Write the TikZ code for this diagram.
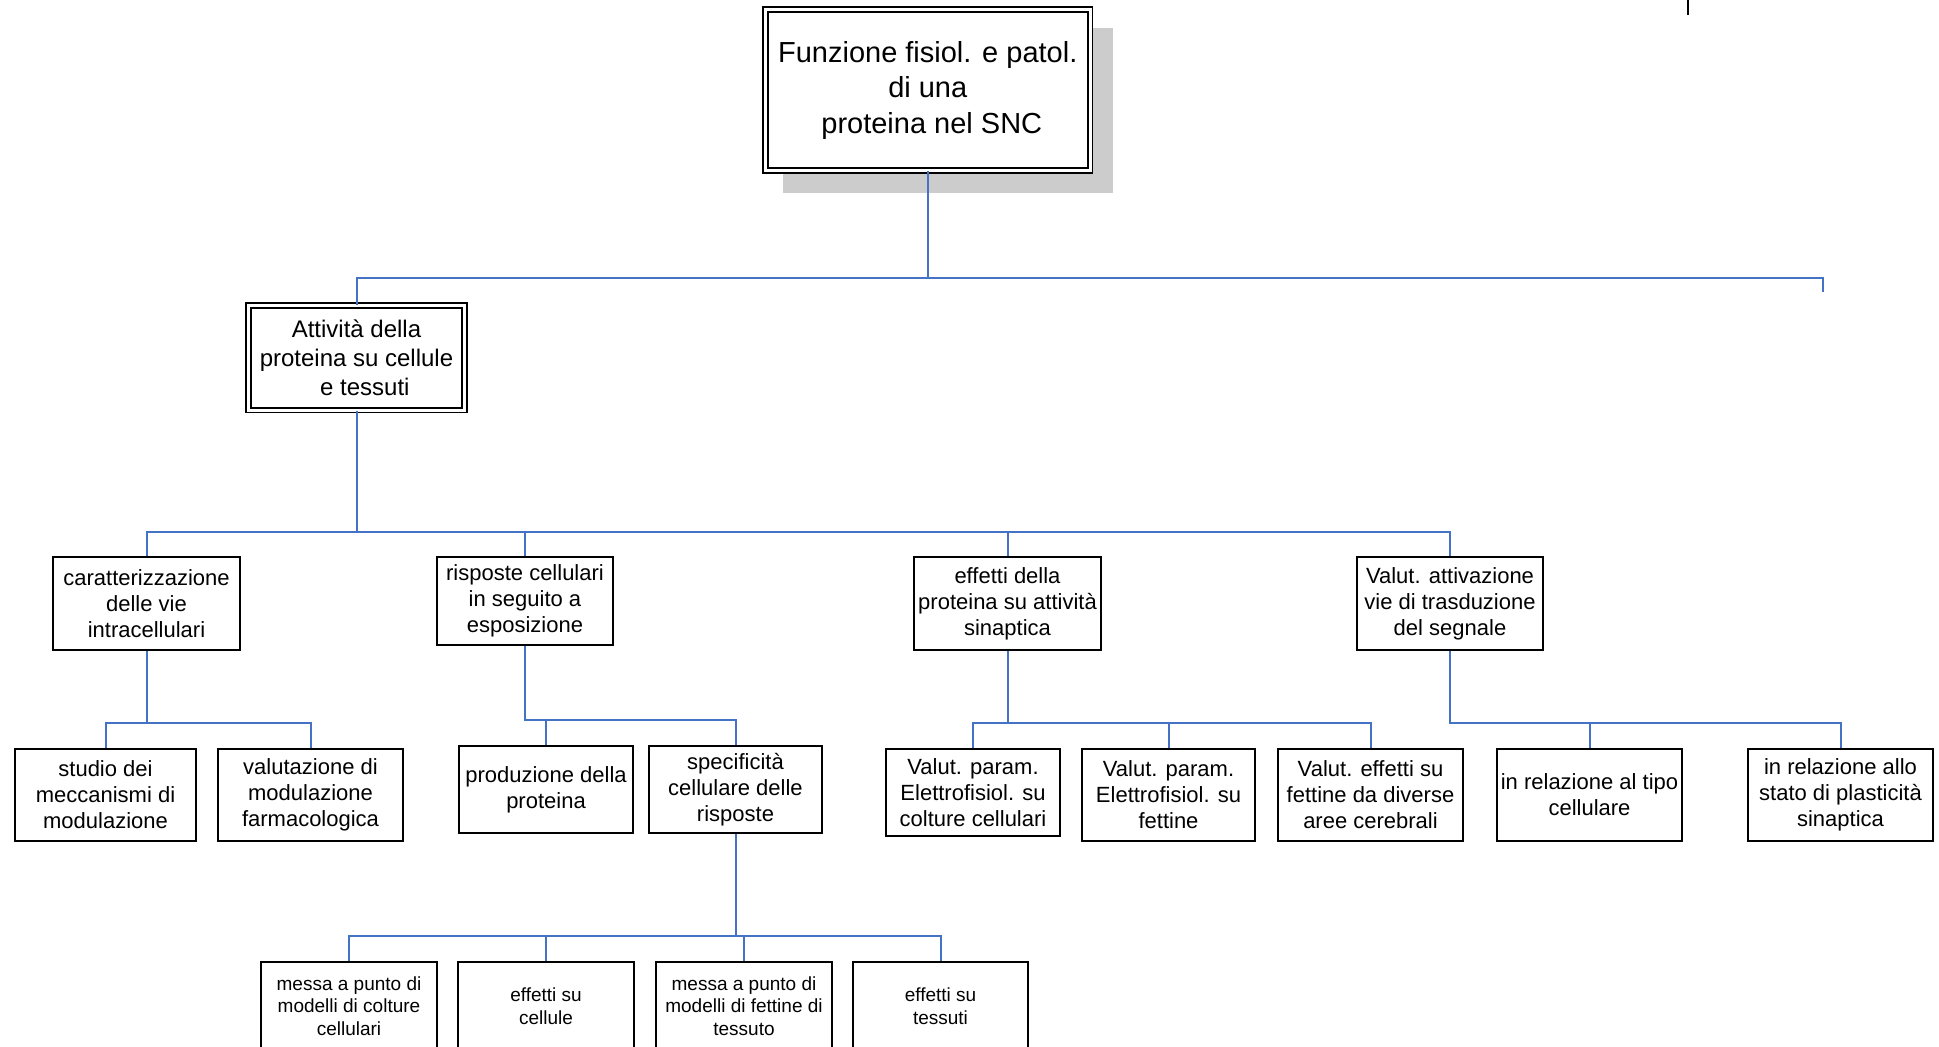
\documentclass[tikz,border=0pt]{standalone}
\usepackage{fontspec}
\setmainfont{Liberation Sans}
\definecolor{conn}{HTML}{4472C4}
\definecolor{shadowgray}{HTML}{CCCCCC}
\tikzset{
  box/.style={draw=black, line width=1.8pt, fill=white, rectangle, inner sep=0pt, align=center},
  dbox/.style={box, double=white, double distance=3pt, line width=1.6pt},
  lvA/.style={font=\fontsize{29}{35.5}\selectfont},
  lvB/.style={font=\fontsize{24}{28.7}\selectfont},
  lvC/.style={font=\fontsize{22}{26}\selectfont},
  lvD/.style={font=\fontsize{19}{22.5}\selectfont},
  link/.style={draw=conn, line width=2pt},
}
% place a box by its corner coordinates
\newcommand{\boxat}[7][]{%
  \node[#2,#1, minimum width={#5-#3}, minimum height={#6-#4}] (#7) at ({(#3+#5)/2},{(#4+#6)/2}) {\boxtext};}
\begin{document}
\begin{tikzpicture}[x=1pt,y=-1pt]
\useasboundingbox (0,0) rectangle (1939,1047);
% shadow of the top box
\fill[shadowgray] (783,28) rectangle (1113,193);

\def\boxtext{Funzione fisiol. e patol.\\di una\\\hspace*{0.28em}proteina nel SNC}
\boxat[lvA]{dbox}{765.5}{9.5}{1090}{170.5}{top}
\def\boxtext{Attività della\\proteina su cellule\\\hspace*{0.7em}e tessuti}
\boxat[lvB]{dbox}{248.5}{305.5}{464.5}{410}{att}

\def\boxtext{caratterizzazione\\delle vie\\intracellulari}
\boxat[lvC]{box}{53}{557}{240}{650}{carat}
\def\boxtext{risposte cellulari\\in seguito a\\esposizione}
\boxat[lvC]{box}{437}{557}{613}{645}{risp}
\def\boxtext{effetti della\\proteina su attività\\sinaptica}
\boxat[lvC]{box}{914}{557}{1101}{650}{eff}
\def\boxtext{Valut. attivazione\\vie di trasduzione\\del segnale}
\boxat[lvC]{box}{1357}{557}{1543}{650}{val}

\def\boxtext{studio dei\\meccanismi di\\modulazione}
\boxat[lvC]{box}{15}{749}{196}{841}{studio}
\def\boxtext{valutazione di\\modulazione\\farmacologica}
\boxat[lvC]{box}{218}{749}{403}{841}{valmod}
\def\boxtext{produzione della\\proteina}
\boxat[lvC]{box}{459}{746}{633}{833}{prod}
\def\boxtext{specificità\\cellulare delle\\risposte}
\boxat[lvC]{box}{649}{746}{822}{833}{spec}
\def\boxtext{Valut. param.\\Elettrofisiol. su\\colture cellulari}
\boxat[lvC]{box}{886}{749}{1060}{836}{vpc}
\def\boxtext{Valut. param.\\Elettrofisiol. su\\fettine}
\boxat[lvC]{box}{1082}{749}{1255}{841}{vpf}
\def\boxtext{Valut. effetti su\\fettine da diverse\\aree cerebrali}
\boxat[lvC]{box}{1278}{749}{1463}{841}{vef}
\def\boxtext{in relazione al tipo\\cellulare}
\boxat[lvC]{box}{1497}{749}{1682}{841}{tipo}
\def\boxtext{in relazione allo\\stato di plasticità\\sinaptica}
\boxat[lvC]{box}{1748}{749}{1933}{841}{allo}

\def\boxtext{messa a punto di\\modelli di colture\\cellulari}
\boxat[lvD]{box}{261}{962}{437}{1050}{mc}
\def\boxtext{effetti su\\cellule}
\boxat[lvD]{box}{458}{962}{634}{1050}{ec}
\def\boxtext{messa a punto di\\modelli di fettine di\\tessuto}
\boxat[lvD]{box}{656}{962}{832}{1050}{mf}
\def\boxtext{effetti su\\tessuti}
\boxat[lvD]{box}{853}{962}{1028}{1050}{et}

% bus levels
\coordinate (b0) at (0,278);
\coordinate (b1) at (0,532);
\coordinate (b2) at (0,723);
\coordinate (b2r) at (0,720);
\coordinate (b3) at (0,936);
\coordinate (stub) at (1823,292);

% connectors
\draw[link] (top.south) -- (top.south |- b0) -| (att.north);
\draw[link] (top.south) -- (top.south |- b0) -| (stub);
\foreach \c in {carat,risp,eff,val}
  \draw[link] (att.south) -- (att.south |- b1) -| (\c.north);
\foreach \c in {studio,valmod}
  \draw[link] (carat.south) -- (carat.south |- b2) -| (\c.north);
\foreach \c in {prod,spec}
  \draw[link] (risp.south) -- (risp.south |- b2r) -| (\c.north);
\foreach \c in {vpc,vpf,vef}
  \draw[link] (eff.south) -- (eff.south |- b2) -| (\c.north);
\foreach \c in {tipo,allo}
  \draw[link] (val.south) -- (val.south |- b2) -| (\c.north);
\foreach \c in {mc,ec,mf,et}
  \draw[link] (spec.south) -- (spec.south |- b3) -| (\c.north);

% small black mark at the top right
\coordinate (m1) at (1688,0);
\coordinate (m2) at (1688,15);
\draw[black, line width=2.5pt] (m1) -- (m2);
\end{tikzpicture}
\end{document}
